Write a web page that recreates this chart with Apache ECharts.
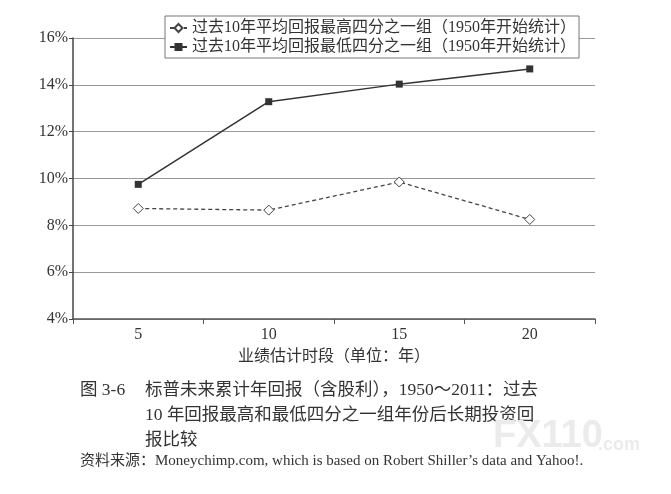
<!DOCTYPE html>
<html>
<head>
<meta charset="utf-8">
<script src="https://cdn.jsdelivr.net/npm/echarts@6/dist/echarts.min.js"></script>
<style>
  html, body { margin: 0; padding: 0; background: #fff; }
  #echart { width: 671px; height: 494px; }
</style>
</head>
<body>
<div id="echart"></div>
<script>
// 业绩估计时段（年）
var periods = ['5', '10', '15', '20'];
// 过去10年平均回报最高四分之一组
var highQuartile = [8.72, 8.65, 9.85, 8.25];
// 过去10年平均回报最低四分之一组
var lowQuartile = [9.75, 13.28, 14.03, 14.68];
var yTicks = [4, 6, 8, 10, 12, 14, 16];

var seriesNames = [
    '过去10年平均回报最高四分之一组（1950年开始统计）',
    '过去10年平均回报最低四分之一组（1950年开始统计）'
];

var fontFamily = '"Liberation Serif", "Noto Sans CJK SC", serif';
var textColor = '#333';

var myChart = echarts.init(document.getElementById('echart'));

var option = {
    backgroundColor: '#fff',
    textStyle: { fontFamily: fontFamily, color: textColor },
    legend: {
        orient: 'vertical',
        left: 165,
        top: 16,
        padding: [4, 3, 3, 4],
        itemGap: 3,
        itemWidth: 17,
        itemHeight: 10,
        backgroundColor: '#fff',
        borderColor: '#777',
        borderWidth: 1,
        borderRadius: 0,
        data: seriesNames,
        textStyle: { fontFamily: fontFamily, fontSize: 16, color: textColor }
    },
    grid: {
        left: 73,
        right: 76,
        top: 38,
        bottom: 175,
        containLabel: false
    },
    xAxis: {
        type: 'category',
        boundaryGap: true,
        data: periods,
        name: '业绩估计时段（单位：年）',
        nameLocation: 'middle',
        nameGap: 30,
        nameTextStyle: { fontFamily: fontFamily, fontSize: 16, color: textColor },
        axisLine: { lineStyle: { color: '#555', width: 1.5 } },
        axisTick: { show: true, length: 5, lineStyle: { color: '#555' } },
        axisLabel: { fontSize: 16, color: textColor, margin: 8 }
    },
    yAxis: {
        type: 'value',
        min: yTicks[0],
        max: yTicks[yTicks.length - 1],
        interval: 2,
        axisLine: { show: true, lineStyle: { color: '#444', width: 1.5 } },
        axisTick: { show: true, length: 4, lineStyle: { color: '#444' } },
        axisLabel: { fontSize: 16, color: textColor, margin: 5, formatter: '{value}%' },
        splitLine: { lineStyle: { color: '#999', width: 1 } }
    },
    series: [
        {
            name: seriesNames[0],
            type: 'line',
            data: highQuartile,
            symbol: 'diamond',
            symbolSize: 10,
            lineStyle: { color: '#444', width: 1.3, type: [4, 3] },
            itemStyle: { color: '#fff', borderColor: '#444', borderWidth: 1 },
            z: 3
        },
        {
            name: seriesNames[1],
            type: 'line',
            data: lowQuartile,
            symbol: 'rect',
            symbolSize: 7,
            lineStyle: { color: '#333', width: 1.5, type: 'solid' },
            itemStyle: { color: '#333', borderColor: '#333', borderWidth: 0 },
            z: 4
        }
    ],
    graphic: [
        {
            type: 'text', left: 80, top: 382,
            style: { text: '图 3-6', font: '17.5px ' + fontFamily, fill: textColor }
        },
        {
            type: 'text', left: 145, top: 382,
            style: { text: '标普未来累计年回报（含股利），1950～2011：过去', font: '17.5px ' + fontFamily, fill: textColor }
        },
        {
            type: 'text', left: 145, top: 407,
            style: { text: '10 年回报最高和最低四分之一组年份后长期投资回', font: '17.5px ' + fontFamily, fill: textColor }
        },
        {
            type: 'text', left: 145, top: 432,
            style: { text: '报比较', font: '17.5px ' + fontFamily, fill: textColor }
        },
        {
            type: 'text', left: 80, top: 454,
            style: { text: '资料来源：Moneychimp.com, which is based on Robert Shiller’s data and Yahoo!.', font: '15px ' + fontFamily, fill: textColor }
        },
        {
            type: 'text', left: 493, top: 418,
            style: { text: 'FX110', font: 'bold 38px "Liberation Sans", sans-serif', fill: '#ebebeb' }
        },
        {
            type: 'text', left: 598, top: 436,
            style: { text: '.com', font: 'bold 18px "Liberation Sans", sans-serif', fill: '#ebebeb' }
        }
    ]
};

myChart.setOption(option);
</script>
</body>
</html>
